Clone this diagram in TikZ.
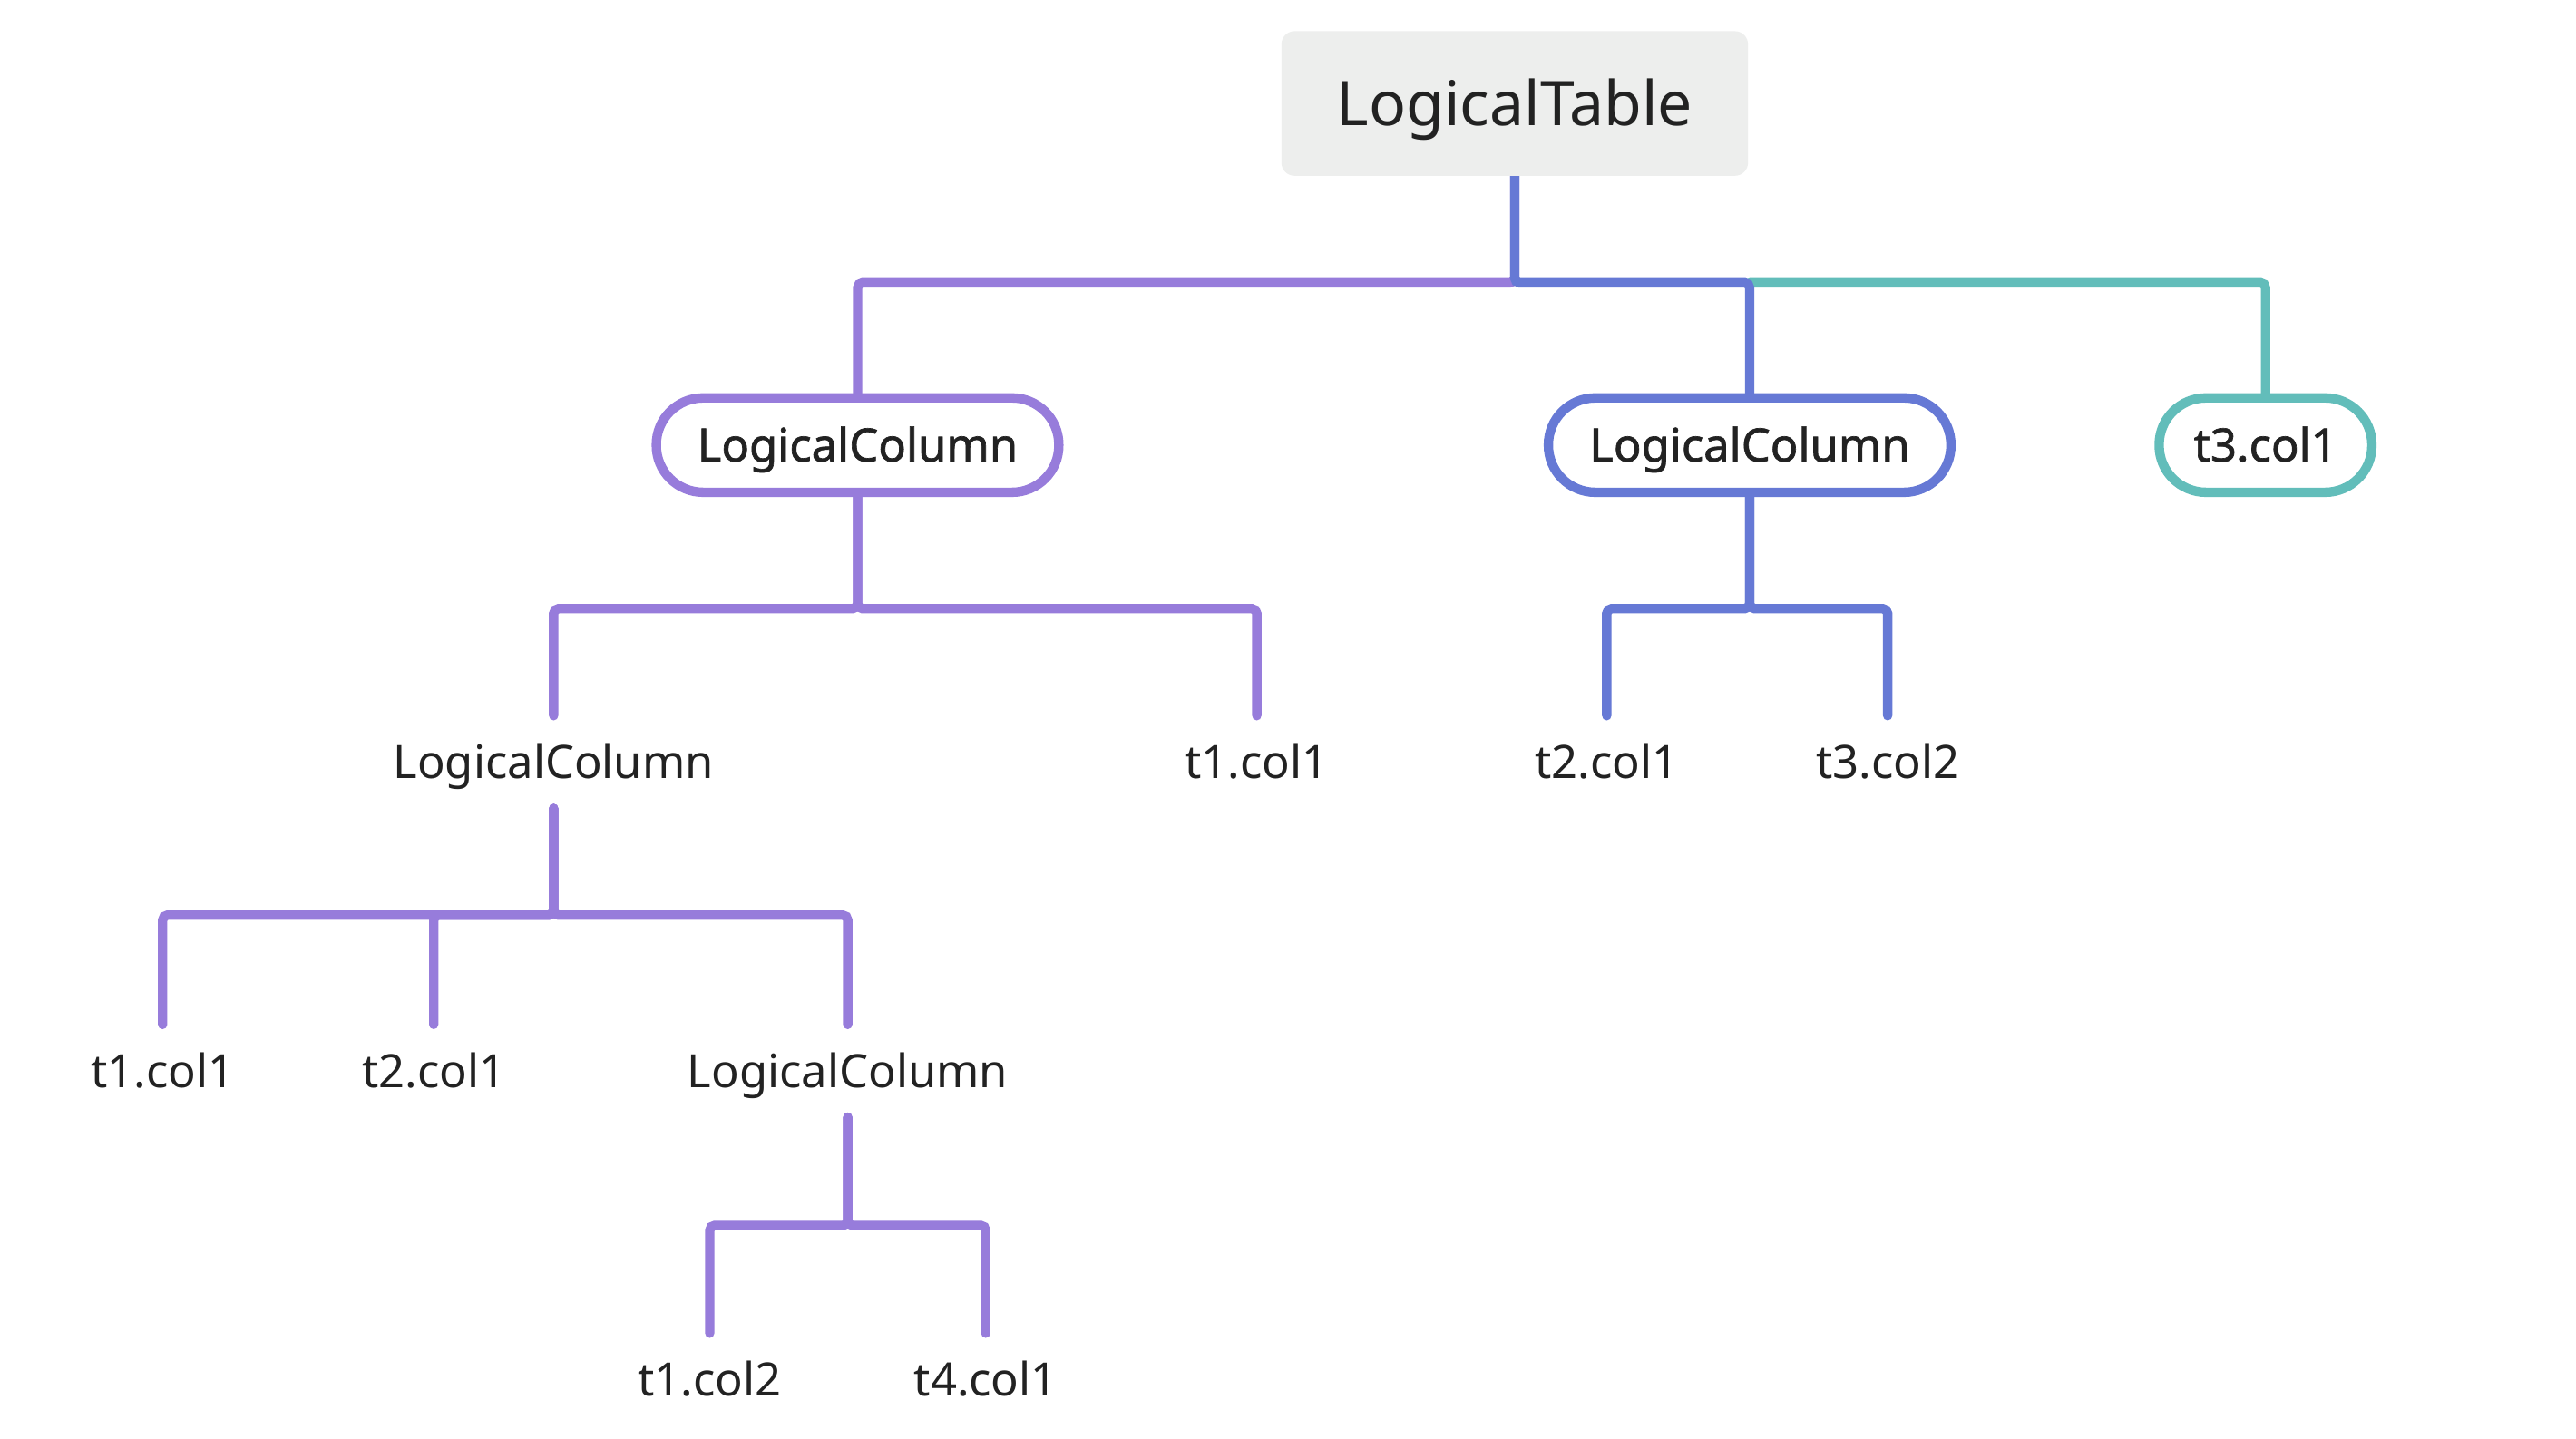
\documentclass[tikz,border=0pt]{standalone}
\usepackage{fontspec}
\setmainfont{Noto Sans}
\newfontfamily\medfont{Noto Sans}[FakeBold=1.3]
\usetikzlibrary{backgrounds}
\definecolor{pur}{HTML}{977CDB}
\definecolor{blu}{HTML}{6679D5}
\definecolor{tea}{HTML}{62BDBA}
\definecolor{txt}{HTML}{222222}
\definecolor{rootbg}{HTML}{EDEEED}
\begin{document}
\begin{tikzpicture}[x=1pt,y=-1pt,
  conn/.style={line width=5.7pt, rounded corners=3pt, line cap=round},
  pill/.style={draw, line width=5.7pt, rounded corners=28.5pt, fill=white,
    minimum height=57.5pt, text=txt, inner sep=0pt,
    font=\medfont\fontsize{28}{34}\selectfont, text height=24pt, text depth=4pt},
  leaf/.style={text=txt, inner sep=0pt, minimum height=56pt,
    font=\fontsize{28}{34}\selectfont, text height=24pt, text depth=4pt},
  rootbox/.style={fill=rootbg, rounded corners=8pt, minimum width=284pt,
    minimum height=88pt, inner sep=0pt, text=txt,
    font=\fontsize{37.5}{44}\selectfont, text height=30pt, text depth=3.6pt}
]
\useasboundingbox (0,0) rectangle (1568,876);

\node[rootbox] (root) at (922,63) {LogicalTable};
\node[pill, draw=pur, minimum width=245pt] (lc1) at (522,271) {LogicalColumn};
\node[pill, draw=blu, minimum width=245pt] (lc2) at (1065,271) {LogicalColumn};
\node[pill, draw=tea, minimum width=129.5pt] (t3) at (1379,271) {t3.col1};

\node[leaf] (a) at (337,464) {LogicalColumn};
\node[leaf] (b) at (765,464) {t1.col1};
\node[leaf] (e1) at (978,464) {t2.col1};
\node[leaf] (e2) at (1149,464) {t3.col2};

\node[leaf] (c1) at (99,652) {t1.col1};
\node[leaf] (c2) at (264,652) {t2.col1};
\node[leaf] (c3) at (516,652) {LogicalColumn};

\node[leaf] (d1) at (432,840) {t1.col2};
\node[leaf] (d2) at (600,840) {t4.col1};

\begin{pgfonlayer}{background}
\fill[white] (0,0) rectangle (1568,876);
\path (root.south) ++(0,65) coordinate (b1);
\draw[conn,pur] (root.south) -- (b1) -| (lc1.north);
\draw[conn,tea] (lc2.north |- b1) -| (t3.north);
\draw[conn,blu] (root.south) -- (b1) -| (lc2.north);

\draw[conn,pur] (lc1.south) -- ++(0,68) -| (a.north);
\draw[conn,pur] (lc1.south) -- ++(0,68) -| (b.north);

\draw[conn,blu] (lc2.south) -- ++(0,68) -| (e1.north);
\draw[conn,blu] (lc2.south) -- ++(0,68) -| (e2.north);

\draw[conn,pur] (a.south) -- ++(0,65) -| (c1.north);
\draw[conn,pur] (a.south) -- ++(0,65) -| (c2.north);
\draw[conn,pur] (a.south) -- ++(0,65) -| (c3.north);

\draw[conn,pur] (c3.south) -- ++(0,66) -| (d1.north);
\draw[conn,pur] (c3.south) -- ++(0,66) -| (d2.north);
\end{pgfonlayer}
\end{tikzpicture}
\end{document}
